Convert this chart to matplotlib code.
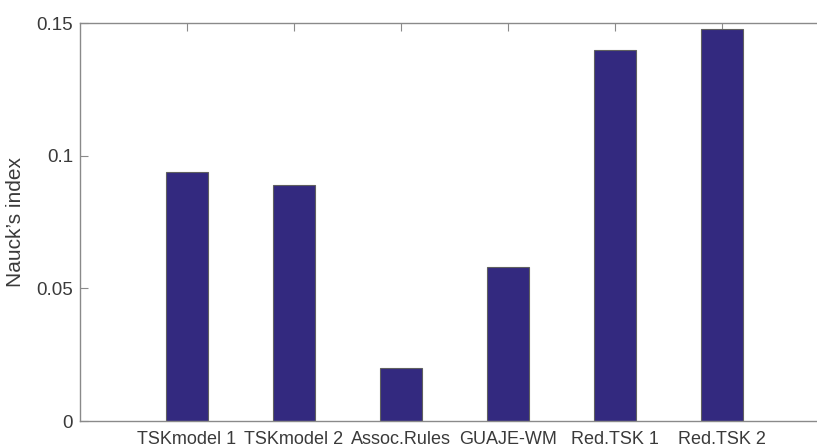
import matplotlib
matplotlib.use('Agg')
import matplotlib.pyplot as plt

# Datos del grafico
metodos = ['TSKmodel 1', 'TSKmodel 2', 'Assoc.Rules', 'GUAJE-WM', 'Red.TSK 1', 'Red.TSK 2']
nauck = [0.094, 0.089, 0.020, 0.058, 0.140, 0.148]
posiciones = [1, 2, 3, 4, 5, 6]
yticks = [0, 0.05, 0.1, 0.15]
ytick_labels = ['0', '0.05', '0.1', '0.15']

plt.rcParams['font.family'] = ['Liberation Sans', 'DejaVu Sans']

color_barra = '#33297f'
color_eje = '#8a8a8a'
color_texto = '#3a3a3a'

fig = plt.figure(figsize=(8.17, 4.48), dpi=100)
# el eje se sale por la derecha (imagen recortada)
ax = fig.add_axes([80 / 817, (448 - 421) / 448, 749 / 817, (421 - 23.3) / 448])

ax.bar(posiciones, nauck, width=0.4, color=color_barra, edgecolor='#606060', linewidth=0.8, zorder=2)

ax.set_xlim(0, 7)
ax.set_ylim(0, 0.15)
ax.set_xticks(posiciones)
ax.set_xticklabels(metodos, fontsize=13, color=color_texto)
ax.set_yticks(yticks)
ax.set_yticklabels(ytick_labels, fontsize=13.5, color=color_texto)
ax.set_ylabel('Nauck\u2019s index', fontsize=15, color=color_texto, labelpad=8)

for lado in ['left', 'bottom', 'top']:
    ax.spines[lado].set_color(color_eje)
    ax.spines[lado].set_linewidth(1.0)
ax.spines['right'].set_visible(False)

ax.tick_params(axis='both', direction='in', length=6, color=color_eje, width=0.8)
ax.tick_params(axis='x', top=True, bottom=True, pad=7.5)
ax.tick_params(axis='y', pad=5)

fig.savefig('out.png', dpi=100)
